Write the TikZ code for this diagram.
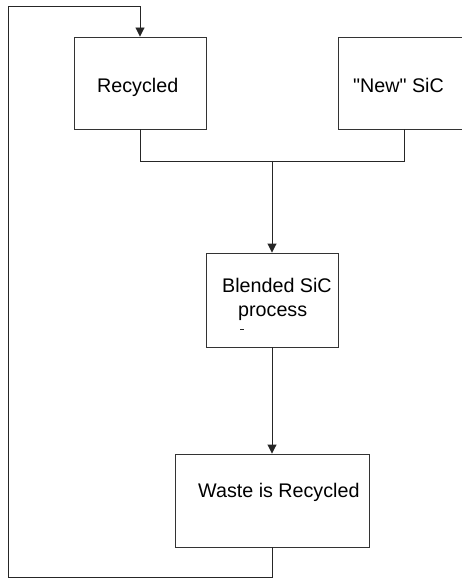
\documentclass[tikz,border=0pt]{standalone}
\usepackage{fontspec}
\setmainfont{Liberation Sans}
\usetikzlibrary{arrows.meta}
\begin{document}
\begin{tikzpicture}[x=1pt,y=-1pt,
  box/.style={draw=black!80,line width=0.9pt,rectangle,inner sep=0pt,minimum width=132pt,minimum height=92pt},
  wire/.style={draw=black!85,line width=0.9pt},
  arr/.style={wire,-{Triangle[length=9pt,width=9pt]}},
  lbl/.style={anchor=base west,inner sep=0pt,font=\fontsize{19.7}{23}\selectfont}]
\useasboundingbox (0,0) rectangle (462,580);
\clip (0,0) rectangle (462,580);
\fill[white] (0,0) rectangle (462,580);
\node[box] (rec) at (140,83) {};
\node[box] (new) at (404,83) {};
\node[box,minimum height=94pt] (blend) at (272,300) {};
\node[box,minimum width=194pt,minimum height=93pt] (waste) at (272,500.5) {};
\node[lbl] (trec) at (97,93) {Recycled};
\node[lbl] (tnew) at (353,93) {\textquotedbl New\textquotedbl\ SiC};
\node[lbl] (tbl1) at (222,292) {Blended SiC};
\node[lbl] (tbl2) at (238,316) {process};
\node[lbl] (twaste) at (198,497) {Waste is Recycled};
\draw[wire,line width=0.6pt] (240,329) -- (244,329);
\coordinate (bus) at (272,161);
\coordinate (lb) at (8,577);
\coordinate (lt) at (8,6);
\draw[wire] (rec.south) |- (bus);
\draw[wire] (new.south) |- (bus);
\draw[arr] (bus) -- (blend.north);
\draw[arr] (blend.south) -- (waste.north);
\draw[arr] (waste.south) |- (lb) -- (lt) -| (rec.north);
\end{tikzpicture}
\end{document}
